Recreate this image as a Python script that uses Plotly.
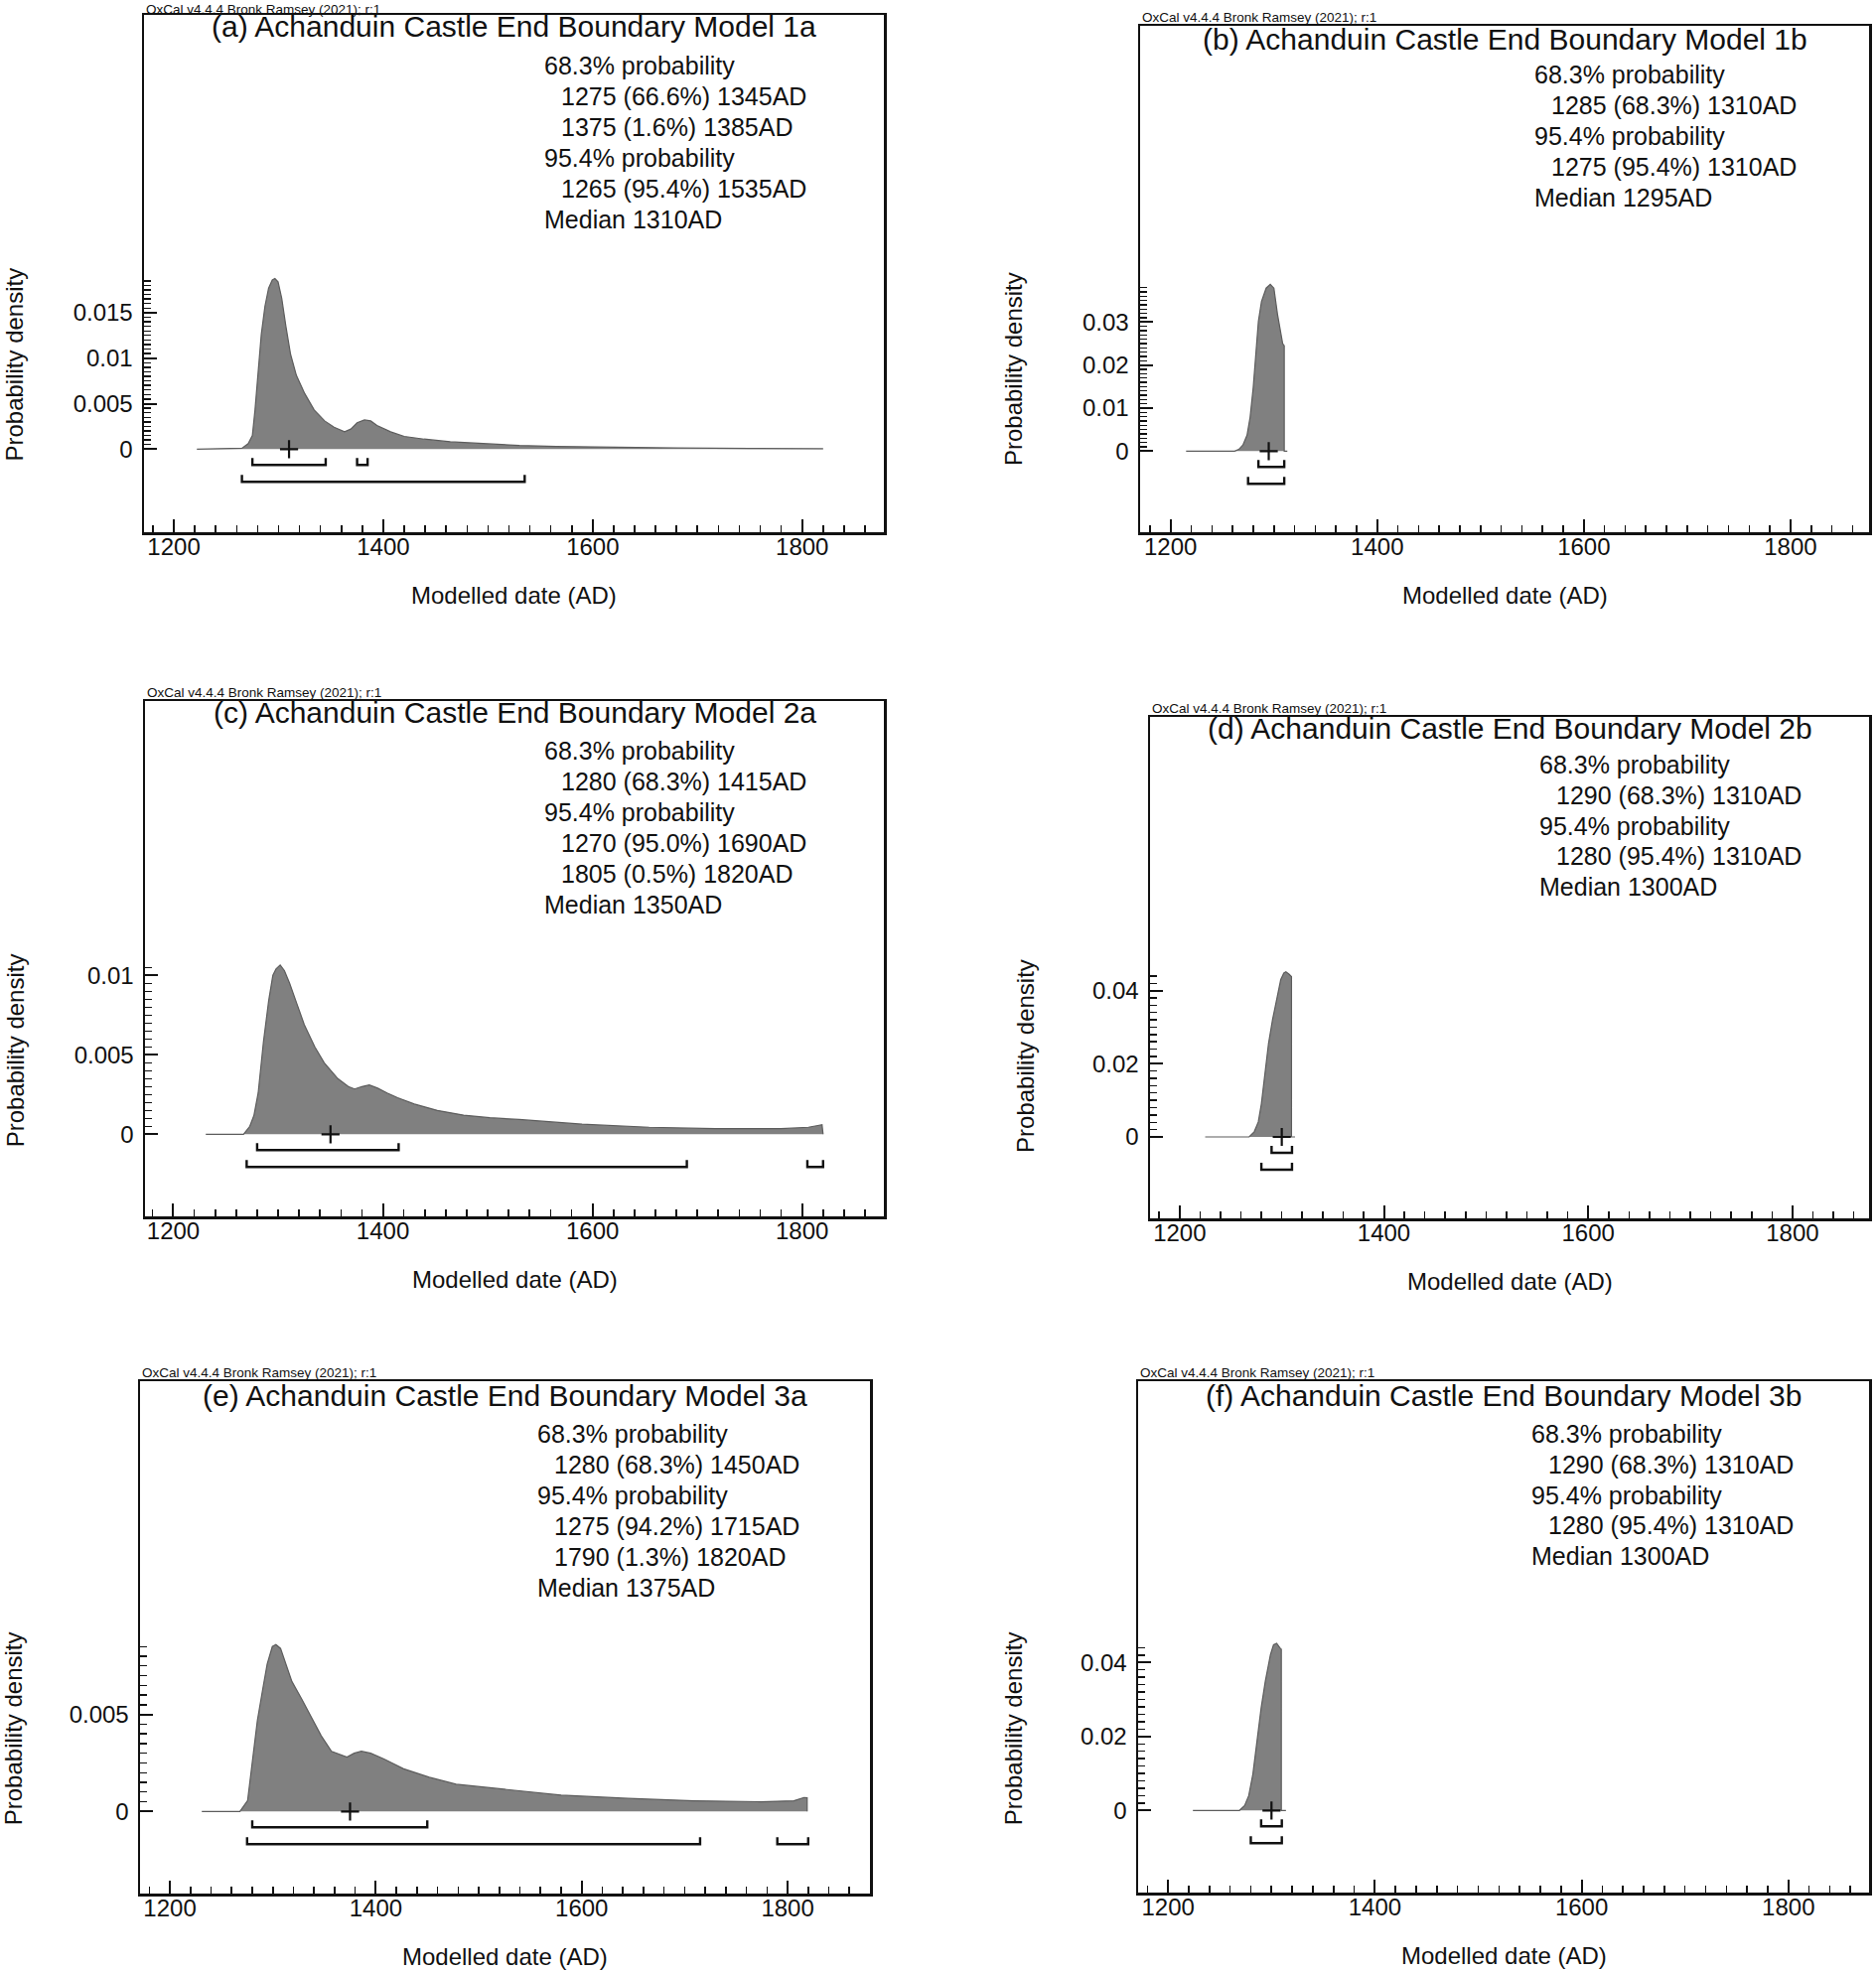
import numpy as np
import plotly.graph_objects as go

W, H = 1889, 1986
FONT = "Liberation Sans, Arial, Helvetica, sans-serif"

# ---------------- data ----------------
# (a) Model 1a
a_years = [1222, 1265, 1271, 1275, 1277.5, 1280.5, 1283.5, 1287, 1290.5, 1294, 1296.5, 1299.5, 1303, 1307,
           1311.5, 1317, 1325, 1334, 1344, 1353, 1363, 1369, 1375, 1382, 1388, 1394, 1407, 1420, 1439, 1464,
           1495, 1530, 1565, 1620, 1680, 1750, 1820]
a_dens = [0, 0.0001, 0.0006, 0.0015, 0.0043, 0.0086, 0.0126, 0.0157, 0.0177, 0.0186, 0.01875, 0.0184, 0.0166,
          0.0135, 0.0104, 0.0081, 0.0061, 0.0043, 0.0031, 0.0024, 0.0019, 0.0022, 0.0029, 0.0032, 0.0031,
          0.0026, 0.0019, 0.0014, 0.0011, 0.0008, 0.0006, 0.0004, 0.0003, 0.0002, 0.00012, 0.00007, 0.00004]
a_r68 = [(1275, 1345, 66.6), (1375, 1385, 1.6)]
a_r95 = [(1265, 1535, 95.4)]
a_median = 1310

# (b) Model 1b
b_years = [1215, 1262, 1266, 1270, 1274, 1277, 1280, 1282.5, 1285, 1288, 1292.5, 1296.5, 1300, 1303.5, 1308.5,
           1310, 1310, 1313]
b_dens = [0, 0, 0.0004, 0.0014, 0.0037, 0.0079, 0.0148, 0.0233, 0.0302, 0.0348, 0.0379, 0.0388, 0.0379, 0.0318,
          0.0250, 0.0245, 0, 0]
b_r68 = [(1285, 1310, 68.3)]
b_r95 = [(1275, 1310, 95.4)]
b_median = 1295

# (c) Model 2a
c_years = [1231, 1267, 1273, 1277, 1281, 1286, 1291, 1295, 1298, 1302, 1306, 1311, 1318, 1325, 1335, 1344, 1357,
           1367, 1373, 1380, 1387, 1395, 1404, 1414, 1430, 1452, 1477, 1502, 1530, 1566, 1590, 1654, 1717, 1780,
           1806, 1815, 1819, 1820]
c_dens = [0, 0, 0.0005, 0.0012, 0.0026, 0.0058, 0.0084, 0.0100, 0.0104, 0.01065, 0.0103, 0.0095, 0.0082, 0.0069,
          0.0055, 0.0045, 0.0035, 0.0030, 0.00285, 0.0030, 0.0031, 0.0029, 0.0026, 0.0023, 0.0019, 0.0015, 0.0012,
          0.00104, 0.00093, 0.00077, 0.00063, 0.00044, 0.00035, 0.00035, 0.00044, 0.00055, 0.0006, 0]
c_r68 = [(1280, 1415, 68.3)]
c_r95 = [(1270, 1690, 95.0), (1805, 1820, 0.5)]
c_median = 1350

# (d) Model 2b
d_years = [1225, 1268, 1273, 1277, 1280, 1284, 1287, 1291, 1296, 1299, 1302, 1304, 1307, 1309.5, 1309.5, 1313]
d_dens = [0, 0, 0.0014, 0.0041, 0.0090, 0.0176, 0.0255, 0.0321, 0.0389, 0.0430, 0.0448, 0.0451, 0.0445, 0.0438,
          0, 0]
d_r68 = [(1290, 1310, 68.3)]
d_r95 = [(1280, 1310, 95.4)]
d_median = 1300

# (e) Model 3a
e_years = [1231, 1268, 1275.5, 1280, 1285, 1290.5, 1294.5, 1299.5, 1303, 1307.5, 1312, 1318.5, 1328, 1338, 1347,
           1357, 1366.5, 1372, 1379, 1386, 1395, 1408, 1427, 1452, 1478, 1504, 1535, 1567, 1580, 1645, 1709,
           1774, 1806, 1816, 1819, 1819]
e_dens = [0, 0, 0.00056, 0.0026, 0.0047, 0.0064, 0.0076, 0.0085, 0.0086, 0.0084, 0.0077, 0.0067, 0.0058, 0.0048,
          0.0039, 0.0031, 0.0029, 0.0028, 0.0030, 0.0031, 0.0030, 0.0027, 0.0022, 0.00176, 0.0014, 0.00125,
          0.0011, 0.0009, 0.00084, 0.00067, 0.00055, 0.0005, 0.00055, 0.00072, 0.0007, 0]
e_r68 = [(1280, 1450, 68.3)]
e_r95 = [(1275, 1715, 94.2), (1790, 1820, 1.3)]
e_median = 1375

# (f) Model 3b
f_years = [1224, 1269, 1274, 1278, 1282, 1286, 1290, 1294, 1299, 1302, 1305, 1308, 1309.5, 1309.5, 1314]
f_dens = [0, 0, 0.0013, 0.0040, 0.0098, 0.0188, 0.0277, 0.0349, 0.0421, 0.0448, 0.0452, 0.0440, 0.0436, 0, 0]
f_r68 = [(1290, 1310, 68.3)]
f_r95 = [(1280, 1310, 95.4)]
f_median = 1300

titles = ["(a) Achanduin Castle End Boundary Model 1a", "(b) Achanduin Castle End Boundary Model 1b",
          "(c) Achanduin Castle End Boundary Model 2a", "(d) Achanduin Castle End Boundary Model 2b",
          "(e) Achanduin Castle End Boundary Model 3a", "(f) Achanduin Castle End Boundary Model 3b"]
x_ticks = [1200, 1400, 1600, 1800]
y_ticks = [[0, 0.005, 0.01, 0.015], [0, 0.01, 0.02, 0.03], [0, 0.005, 0.01],
           [0, 0.02, 0.04], [0, 0.005], [0, 0.02, 0.04]]
y_ticktext = [["0", "0.005", "0.01", "0.015"], ["0", "0.01", "0.02", "0.03"], ["0", "0.005", "0.01"],
              ["0", "0.02", "0.04"], ["0", "0.005"], ["0", "0.02", "0.04"]]
oxcal = "OxCal v4.4.4 Bronk Ramsey (2021); r:1"

series = [
    (a_years, a_dens, a_r68, a_r95, a_median),
    (b_years, b_dens, b_r68, b_r95, b_median),
    (c_years, c_dens, c_r68, c_r95, c_median),
    (d_years, d_dens, d_r68, d_r95, d_median),
    (e_years, e_dens, e_r68, e_r95, e_median),
    (f_years, f_dens, f_r68, f_r95, f_median),
]

# ---------------- layout (pixels of the 1889x1986 page) ----------------
# box = (left, right, top, bottom)
panels = [
    dict(box=(145, 890, 15, 536), xr=(1171.5, 1878), yr=(-0.009138, 0.047740), ystep=0.0005, ytop=0.0185,
         title_y=26, stats_x=547, stats_y0=66, dy=31, ylab_x=15),
    dict(box=(1148, 1882, 26, 536), xr=(1170.5, 1876), yr=(-0.018868, 0.098914), ystep=0.001, ytop=0.038,
         title_y=39, stats_x=1544, stats_y0=75, dy=31, ylab_x=1020),
    dict(box=(146, 890, 706, 1225), xr=(1173, 1878), yr=(-0.005169, 0.027269), ystep=0.0005, ytop=0.0105,
         title_y=717, stats_x=547, stats_y0=756, dy=31, ylab_x=15),
    dict(box=(1158, 1882, 722, 1227), xr=(1171, 1875), yr=(-0.022252, 0.114790), ystep=0.002, ytop=0.044,
         title_y=733, stats_x=1549, stats_y0=770, dy=30.8, ylab_x=1033),
    dict(box=(141, 876, 1391, 1907), xr=(1171, 1880), yr=(-0.004232, 0.022175), ystep=0.0005, ytop=0.0085,
         title_y=1405, stats_x=540, stats_y0=1444, dy=31, ylab_x=13),
    dict(box=(1146, 1882, 1391, 1906), xr=(1171, 1878), yr=(-0.022201, 0.116054), ystep=0.002, ytop=0.044,
         title_y=1405, stats_x=1541, stats_y0=1444, dy=30.8, ylab_x=1020),
]

fig = go.Figure()
annotations = []


def px(x):
    return x / W


def py(y):
    return 1 - y / H


def ann(x, y, text, size, xanchor="left", yanchor="middle", angle=0):
    annotations.append(dict(x=px(x), y=py(y), xref="paper", yref="paper", text=text, showarrow=False,
                            xanchor=xanchor, yanchor=yanchor, textangle=angle, borderpad=0,
                            font=dict(family=FONT, size=size, color="#111111")))


layout_axes = {}
for i, (p, s) in enumerate(zip(panels, series)):
    n = i + 1
    sfx = "" if n == 1 else str(n)
    xname, yname = "x" + sfx, "y" + sfx
    l, r, t, b = p["box"]
    years, dens, r68, r95, med = s
    y0, y1 = p["yr"]
    ppu = (b - t) / (y1 - y0)  # pixels per density unit

    # density
    fig.add_trace(go.Scatter(x=years, y=dens, mode="lines", fill="tozeroy", fillcolor="#808080",
                             line=dict(color="#5c5c5c", width=1.2), xaxis=xname, yaxis=yname,
                             showlegend=False, hoverinfo="skip"))
    # ranges: 68.3% row and 95.4% row, drawn as brackets
    for rows, off in ((r68, 16), (r95, 33)):
        yb = -off / ppu
        yt = -(off - 7) / ppu
        for lo, hi, _ in rows:
            fig.add_trace(go.Scatter(x=[lo, lo, hi, hi], y=[yt, yb, yb, yt], mode="lines",
                                     line=dict(color="#111111", width=2.4), xaxis=xname, yaxis=yname,
                                     showlegend=False, hoverinfo="skip"))
    # median
    fig.add_trace(go.Scatter(x=[med], y=[0], mode="markers",
                             marker=dict(symbol="cross-thin", size=13, line=dict(color="#111111", width=2.2)),
                             xaxis=xname, yaxis=yname, showlegend=False, hoverinfo="skip", cliponaxis=False))

    minor_x = [v for v in range(1180, 1880, 20) if v not in x_ticks]
    ymin_vals = [round(v, 6) for v in np.arange(0, p["ytop"] + 1e-9, p["ystep"])]
    minor_y = [v for v in ymin_vals if all(abs(v - m) > 1e-9 for m in y_ticks[i])]

    layout_axes["xaxis" + sfx] = dict(
        domain=[px(l), px(r)], range=list(p["xr"]), anchor=yname, showgrid=False, zeroline=False,
        showline=True, linecolor="#111111", linewidth=2.5, mirror=True,
        ticks="inside", ticklen=13, tickwidth=2, tickcolor="#111111",
        tickmode="array", tickvals=x_ticks, ticktext=[str(v) for v in x_ticks],
        tickfont=dict(family=FONT, size=24, color="#111111"), ticklabelstandoff=-8,
        minor=dict(ticks="inside", ticklen=7, tickwidth=1.6, tickcolor="#111111", tickvals=minor_x),
    )
    layout_axes["yaxis" + sfx] = dict(
        domain=[py(b), py(t)], range=[y0, y1], anchor=xname, showgrid=False, zeroline=False,
        showline=True, linecolor="#111111", linewidth=2.5, mirror=True,
        ticks="inside", ticklen=13, tickwidth=2, tickcolor="#111111",
        tickmode="array", tickvals=y_ticks[i], ticktext=y_ticktext[i],
        tickfont=dict(family=FONT, size=24, color="#111111"), ticklabelstandoff=4,
        minor=dict(ticks="inside", ticklen=7, tickwidth=1.4, tickcolor="#111111", tickvals=minor_y),
    )

    # texts
    cx = (l + r) / 2
    ann(l + 1, max(t - 9, 9), oxcal, 13.5, "left", "middle")
    ann(cx, p["title_y"], titles[i], 30, "center", "middle")
    lines = [("68.3% probability", 0)]
    lines += [(f"{lo} ({pc:.1f}%) {hi}AD", 1) for lo, hi, pc in r68]
    lines += [("95.4% probability", 0)]
    lines += [(f"{lo} ({pc:.1f}%) {hi}AD", 1) for lo, hi, pc in r95]
    lines += [(f"Median {med}AD", 0)]
    for k, (txt, ind) in enumerate(lines):
        ann(p["stats_x"] + 17 * ind, p["stats_y0"] + k * p["dy"], txt, 25, "left", "middle")
    zero_px = t + y1 * ppu
    top_px = t + (y1 - p["ytop"]) * ppu
    ann(p["ylab_x"], (zero_px + top_px) / 2, "Probability density", 24, "center", "middle", -90)
    ann(cx, b + 63, "Modelled date (AD)", 24, "center", "middle")

fig.update_layout(
    width=W, height=H, autosize=False, margin=dict(l=0, r=0, t=0, b=0),
    paper_bgcolor="white", plot_bgcolor="white", showlegend=False,
    annotations=annotations, **layout_axes,
)

fig.write_html("out.html", config={"displayModeBar": False, "staticPlot": True},
               post_script="document.body.style.margin='0px';document.body.style.overflow='hidden';")
